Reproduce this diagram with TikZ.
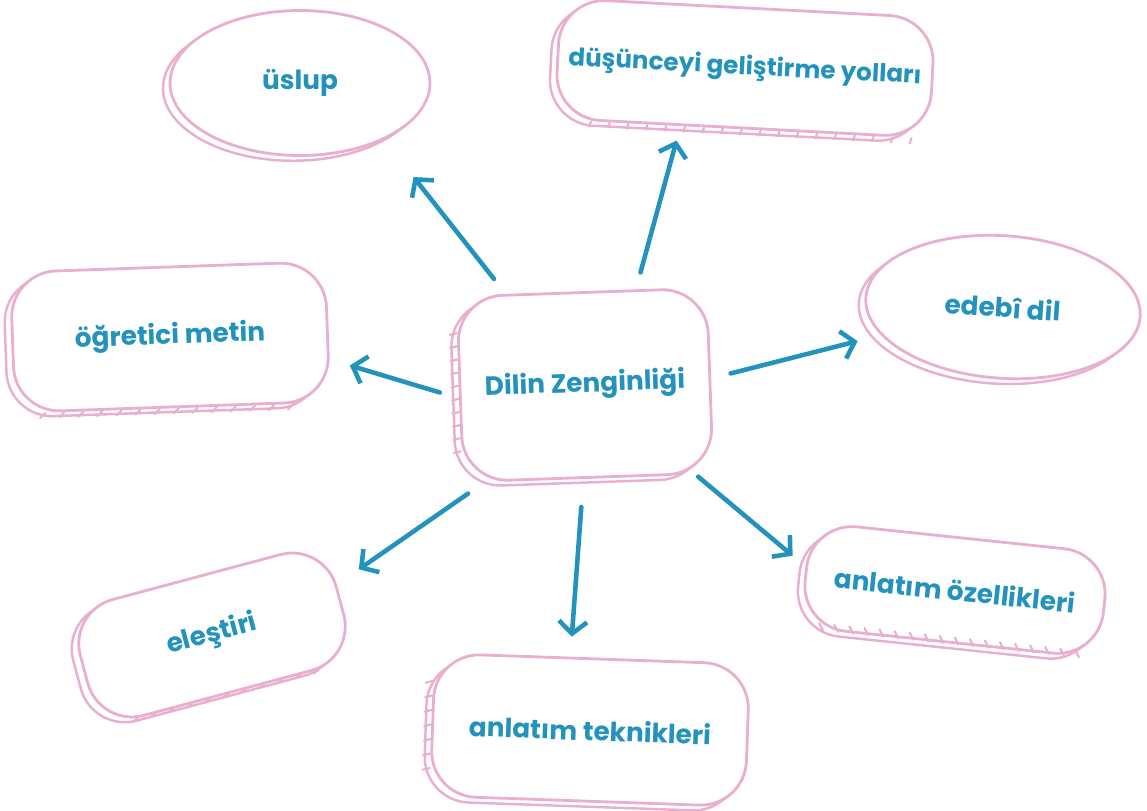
\documentclass[tikz,border=0pt]{standalone}
\usepackage{fontspec}
\setmainfont{Poppins}
\usetikzlibrary{arrows.meta, shapes.geometric, shadows, calc}
\definecolor{pinkline}{HTML}{E9AFD1}
\definecolor{blueink}{HTML}{2393BE}

\begin{document}
\begin{tikzpicture}[x=0.02cm, y=-0.02cm, >={Straight Barb[length=7pt, width=16pt]}, line join=round]
\tikzstyle{idea}=[draw=pinkline, line width=1.6pt, fill=white, rounded corners=26pt, text=blueink, font=\bfseries\fontsize{15}{17}\selectfont, copy shadow={shadow xshift=-4pt, shadow yshift=-3pt, draw=pinkline, fill=white, line width=1.4pt}]
\tikzstyle{bubble}=[idea, ellipse, rounded corners=0pt]
\tikzstyle{link}=[->, draw=blueink, line width=2.6pt, line cap=round]
\tikzstyle{hatch}=[draw=pinkline, line width=1.2pt, line cap=round]

\useasboundingbox (0,0) rectangle (1147,811);

% ideas
\node[idea, minimum width=5cm, minimum height=3.7cm, rotate=2] (dz) at (585,385) {Dilin Zenginliği};
\node[bubble, minimum width=5.2cm, minimum height=2.9cm] (uslup) at (300,83) {üslup};
\node[idea, minimum width=7.5cm, minimum height=2.4cm, rotate=-3, font=\bfseries\fontsize{14}{16}\selectfont] (dusunce) at (745,68) {düşünceyi geliştirme yolları};
\node[bubble, minimum width=5.5cm, minimum height=2.85cm, rotate=-4] (edebi) at (1003,307) {edebî dil};
\node[idea, minimum width=6.3cm, minimum height=2.8cm, rotate=2] (ogretici) at (170,337) {öğretici metin};
\node[idea, minimum width=5.3cm, minimum height=2.4cm, rotate=15] (elestiri) at (212,635) {eleştiri};
\node[idea, minimum width=6.3cm, minimum height=2.85cm, rotate=-2] (teknik) at (590,730) {anlatım teknikleri};
\node[idea, minimum width=6cm, minimum height=2.1cm, rotate=-6] (ozellik) at (955,590) {anlatım özellikleri};

% sketchy strokes
\foreach \t in {0.2,0.27,...,0.9}
  \draw[hatch] ($(dz.north west)!\t!(dz.south west)$) -- ++(-4pt,-1pt);
\foreach \t in {0.1,0.15,...,0.95}
  \draw[hatch] ($(dusunce.south west)!\t!(dusunce.south east)$) -- ++(-1pt,-3pt);
\foreach \t in {0.08,0.13,...,0.95}
  \draw[hatch] ($(ozellik.south west)!\t!(ozellik.south east)$) -- ++(-2pt,4pt);
\foreach \t in {0.15,0.22,...,0.9}
  \draw[hatch] ($(elestiri.south west)!\t!(elestiri.south east)$) -- ++(-3pt,-2pt);
\foreach \t in {0.1,0.16,...,0.9}
  \draw[hatch] ($(ogretici.south west)!\t!(ogretici.south east)$) -- ++(-3pt,-3pt);
\foreach \t in {0.2,0.3,...,0.85}
  \draw[hatch] ($(teknik.north west)!\t!(teknik.south west)$) -- ++(-4pt,-1pt);

% links
\draw[link, shorten <=0.38cm, shorten >=0.95cm] (dz.129) -- (uslup.-34);
\draw[link, shorten <=0.35cm, shorten >=0.3cm] (dz.60) -- (dusunce.-135);
\draw[link, shorten <=0.4cm, shorten >=0.48cm] (dz.1) -- (edebi.197);
\draw[link, shorten <=0.4cm, shorten >=0.42cm] (dz.184) -- (ogretici.-10);
\draw[link, shorten <=0.39cm, shorten >=0.53cm] (dz.222) -- (elestiri.7);
\draw[link, shorten <=0.56cm, shorten >=0.4cm] (dz.-93) -- (teknik.107);
\draw[link, shorten <=0.05cm, shorten >=0.33cm] (dz.-41) -- (ozellik.177);
\end{tikzpicture}
\end{document}
